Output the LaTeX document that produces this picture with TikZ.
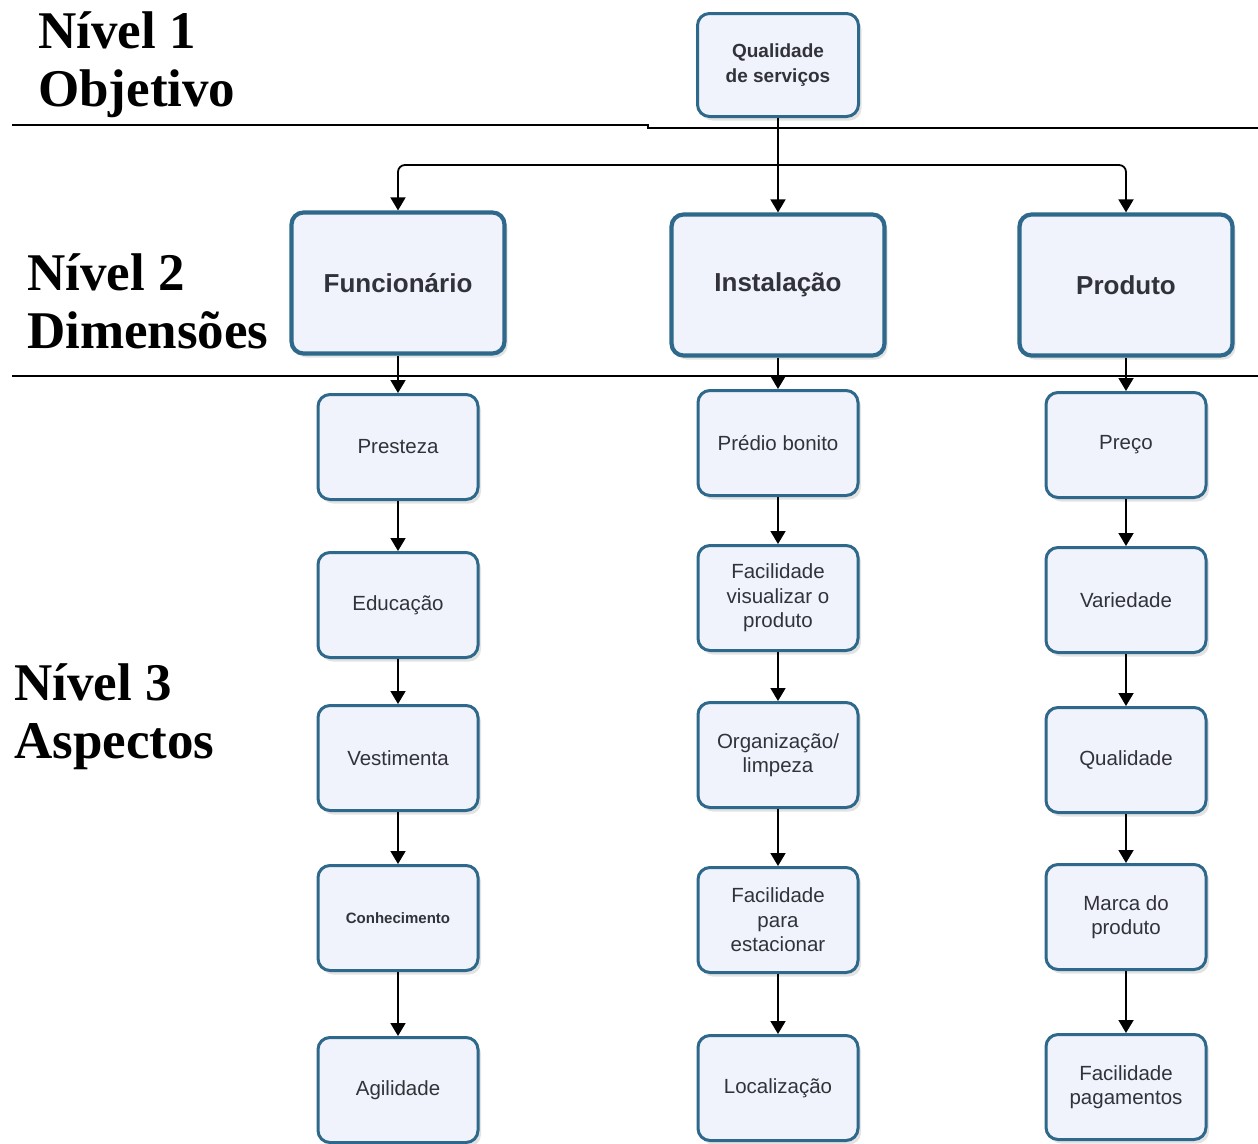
\documentclass[tikz,border=0pt]{standalone}
\usepackage{fontspec}
\setmainfont{Liberation Serif}
\setsansfont{Liberation Sans}
\usetikzlibrary{positioning,arrows.meta,shadows}
\definecolor{boxline}{RGB}{46,104,138}
\definecolor{boxfill}{RGB}{240,243,251}
\definecolor{boxtext}{RGB}{50,50,58}

\begin{document}
\begin{tikzpicture}[x=1pt,y=-1pt,
box/.style={
    rectangle,
    rounded corners=12pt,
    draw=boxline,
    fill=boxfill,
    line width=3pt,
    align=center,
    text=boxtext,
    font=\sffamily\fontsize{20.5}{24.5}\selectfont,
    minimum width=160pt,
    minimum height=105pt,
    drop shadow={shadow xshift=3pt,shadow yshift=-4pt,opacity=.22}
    },
dim/.style={
    box,
    line width=4.2pt,
    minimum width=213pt,
    minimum height=141pt,
    font=\sffamily\bfseries\fontsize{26}{30}\selectfont},
nivel/.style={
    anchor=north west,
    align=left,
    inner sep=0,
    font=\bfseries\fontsize{53}{58}\selectfont},
arr/.style={-{Triangle[length=13pt,width=15pt]},line width=1.8pt},
sep/.style={line width=1.6pt}
]
\useasboundingbox (0,0) rectangle (1258,1143);

% niveis
\node(n1) [nivel] at (38,11) {Nível 1\\Objetivo};
\node(n2) [nivel] at (27,253) {Nível 2\\Dimensões};
\node(n3) [nivel] at (14,663) {Nível 3\\Aspectos};
\draw[sep] (12,125) -- (648,125) -- (648,128) -- (1258,128);
\draw[sep] (12,376) -- (1258,376);

% objetivo e dimensoes
\node(qual) [box,minimum width=161pt,minimum height=103pt,font=\sffamily\bfseries\fontsize{19}{25}\selectfont] at (778,65) {Qualidade\\de serviços};
\node(func) [dim] at (398,283) {Funcionário};
\node(inst) [dim] at (778,285) {Instalação};
\node(prod) [dim] at (1126,285) {Produto};

% aspectos
\node(pres) [box] at (398,447) {Presteza};
\node(educ) [box] at (398,605) {Educação};
\node(vest) [box] at (398,758) {Vestimenta};
\node(conh) [box,font=\sffamily\bfseries\fontsize{15}{18}\selectfont] at (398,918) {Conhecimento};
\node(agil) [box] at (398,1090) {Agilidade};

\node(pred) [box] at (778,443) {Prédio bonito};
\node(visu) [box] at (778,598) {Facilidade\\visualizar o\\produto};
\node(orga) [box] at (778,755) {Organização/\\limpeza};
\node(esta) [box] at (778,920) {Facilidade\\para\\estacionar};
\node(loca) [box] at (778,1088) {Localização};

\node(prec) [box] at (1126,445) {Preço};
\node(vari) [box] at (1126,600) {Variedade};
\node(qlid) [box] at (1126,760) {Qualidade};
\node(marc) [box] at (1126,917) {Marca do\\produto};
\node(paga) [box] at (1126,1087) {Facilidade\\pagamentos};

% ligacoes
\coordinate (branch) at (778,165);
\draw[arr] (qual) -- (inst);
\draw[arr,rounded corners=7pt] (branch) -| (func);
\draw[arr,rounded corners=7pt] (branch) -| (prod);
\foreach \a/\b in {func/pres,pres/educ,educ/vest,vest/conh,conh/agil,
                   inst/pred,pred/visu,visu/orga,orga/esta,esta/loca,
                   prod/prec,prec/vari,vari/qlid,qlid/marc,marc/paga}
    \draw[arr] (\a) -- (\b);
\end{tikzpicture}
\end{document}
